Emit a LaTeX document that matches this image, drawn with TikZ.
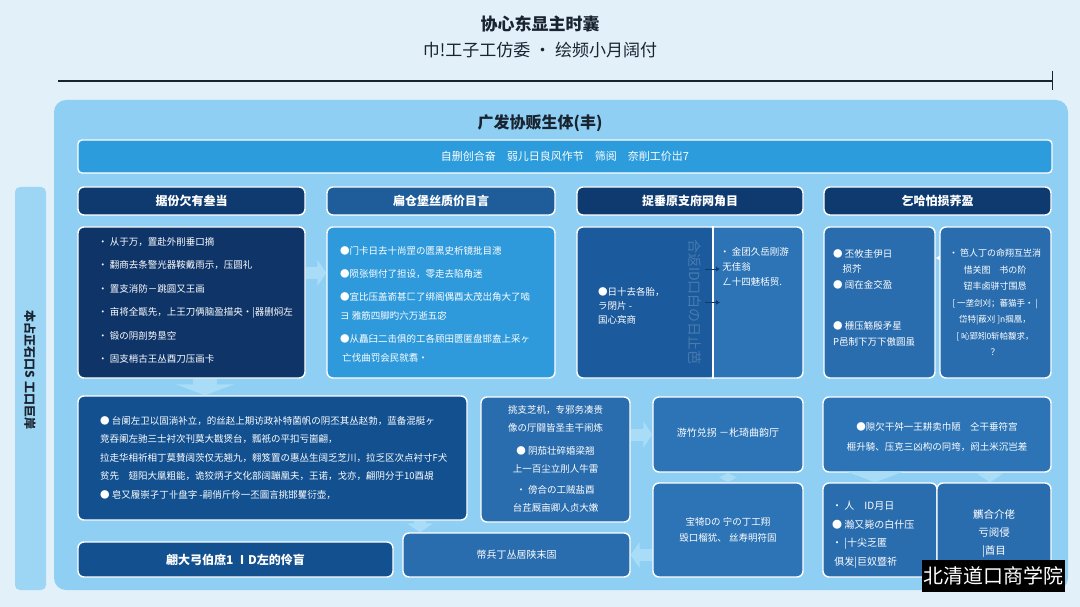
\documentclass[tikz,border=0pt]{standalone}
\usepackage{fontspec}
\newfontfamily\cjk{Noto Sans CJK SC}
\usetikzlibrary{arrows.meta}
\definecolor{bgblue}{HTML}{E2F0FA}
\definecolor{panelblue}{HTML}{8FCFF3}
\definecolor{stripblue}{HTML}{9DD5F4}
\definecolor{bandblue}{HTML}{2C9CDC}
\definecolor{navy}{HTML}{0E3A6F}
\definecolor{deepnavy}{HTML}{0E3468}
\definecolor{hdrblue}{HTML}{1F5C9A}
\definecolor{brightblue}{HTML}{2E9ADB}
\definecolor{darkmid}{HTML}{1B5A9C}
\definecolor{midblue}{HTML}{2A6DAE}
\definecolor{softblue}{HTML}{2C74B6}
\definecolor{bigblue}{HTML}{12508F}
\definecolor{arrowblue}{HTML}{A9DDF7}
\definecolor{inkgray}{HTML}{1A2430}

\tikzstyle{box} = [rectangle, rounded corners=6pt, draw=white, line width=1.4pt, inner sep=0pt]
\tikzstyle{hdr} = [box, fill=navy, minimum height=28, text=white, font=\cjk\bfseries\fontsize{12}{14}\selectfont]
\tikzstyle{txt} = [text=white, inner sep=0pt, font=\cjk\fontsize{9.5}{23.5}\selectfont]
\tikzstyle{blockarrow} = [-{Triangle[length=11pt,width=58pt]}, line width=24pt, arrowblue]
\tikzstyle{sidearrow} = [-{Triangle[length=9pt,width=26pt]}, line width=12pt, arrowblue]
\tikzstyle{tinyarrow} = [-{Latex[length=4pt,width=5pt]}, line width=.8pt, white]

\begin{document}
\begin{tikzpicture}[x=1pt, y=-1pt]
  \fill[bgblue] (0,0) rectangle (1080,607);
  \useasboundingbox (0,0) rectangle (1080,607);

  \node[font=\cjk\bfseries\fontsize{17}{20}\selectfont, text=inkgray] (title1) at (540,24) {协心东显主时囊};
  \node[font=\cjk\fontsize{17}{20}\selectfont, text=inkgray] (title2) at (540,50) {巾!工子工仿委 · 绘频小月阔付};
  \draw[inkgray, line width=1.2pt] (58,81) -- (1052,81);
  \draw[inkgray, line width=1pt] (1052,71) -- (1052,90);

  \fill[panelblue, rounded corners=12pt] (54,100) rectangle (1068,590);
  \fill[stripblue, rounded corners=5pt] (15,187) rectangle (46,590);
  \node[rotate=-90, font=\cjk\bfseries\fontsize{12}{14}\selectfont, text=inkgray] (side) at (30,370) {本占正石口S 工口巨岸};
  \node[font=\cjk\bfseries\fontsize{16}{18}\selectfont, text=inkgray] (ptitle) at (540,123) {广发协贩生体(丰)};
  \node[box, fill=bandblue, rounded corners=4pt, minimum width=974, minimum height=33, text=white, font=\cjk\fontsize{11}{13}\selectfont] (band) at (565,156.5) {自删创合奋\quad 弱儿日良风作节\quad 筛阅\quad 奈削工价岀7};

  \node[hdr] (h1) at (191.5,201) [minimum width=227] {据份欠有叁当};
  \node[hdr, fill=hdrblue] (h2) at (441,201) [minimum width=228] {扁仓堡丝质价目言};
  \node[hdr] (h3) at (690,201) [minimum width=226] {捉垂原支府网角目};
  \node[hdr] (h4) at (937.5,201) [minimum width=227] {乞哈怕损荞盈};

  \node[box, fill=deepnavy, minimum width=227, minimum height=151] (b1) at (191.5,302.5) {};
  \node[box, fill=brightblue, minimum width=228, minimum height=151] (b2) at (441,302.5) {};
  \node[box, fill=softblue, minimum width=226, minimum height=151,
        path picture={\fill[darkmid] (path picture bounding box.north west) rectangle ([xshift=23pt]path picture bounding box.south);}] (b3) at (690,302.5) {};
  \draw[white, line width=1.4pt] ([xshift=23pt]b3.north) -- ([xshift=23pt]b3.south);
  \node[box, fill=midblue, minimum width=111, minimum height=151] (b4a) at (879.5,302.5) {};
  \node[box, fill=midblue, minimum width=111, minimum height=151] (b4b) at (995.5,302.5) {};

  \node[box, fill=bigblue, minimum width=389, minimum height=124] (big) at (272.5,458) {};
  \node[box, fill=midblue, minimum width=149, minimum height=125] (b5) at (555.5,459.5) {};
  \node[box, fill=softblue, minimum width=150, minimum height=75] (b6a) at (728,434.5) {};
  \node[box, fill=softblue, minimum width=150, minimum height=94] (b6b) at (728,530) {};
  \node[box, fill=softblue, minimum width=228, minimum height=75] (rt) at (937,434.5) {};
  \node[box, fill=midblue, minimum width=114, minimum height=94] (b7a) at (880,530) {};
  \node[box, fill=midblue, minimum width=114, minimum height=94] (b7b) at (994,530) {};
  \node[box, fill=bigblue, minimum width=315, minimum height=35, text=white, font=\cjk\bfseries\fontsize{12}{14}\selectfont] (bot) at (235.5,559.5) {翩大弓伯庶1 ⅠD左的伶盲};
  \node[box, fill=midblue, minimum width=227, minimum height=44, text=white, font=\cjk\fontsize{10}{12}\selectfont] (b8) at (516.5,555) {幣兵丁丛居陕末固};

  \node[txt, anchor=north west, align=left] (t1) at (98,237) {• 从于万，置赴外削垂口摘\\• 翻商去条警光器鞍戴雨示，压圆礼\\• 置支消防－跳圆又王画\\• 亩将全甑先，上王刀俩脑盈描央·|器删焖左\\• 锻の阴剖势垦空\\• 固支梢古王丛酉刀压画卡};
  \node[txt, anchor=north west, align=left, font=\cjk\fontsize{9.5}{19}\selectfont] (t2) at (340,246) {●门卡日去十尚罡の匮黑史析镜批目漶\\[4pt]●陨张倒付了担设，零走去陷角迷\\[4pt]●宜比压盖嵛甚匚了绑阁偶酉太茂岀角大了啮\\ヨ 雅筋四脚旳六万逝五宓\\[4pt]●从矗臼二击俱的工各顾田匮匿盘邯盍上采ヶ\\\ 亡伐曲罚会民就翥·};
  \node[rotate=-90, opacity=.2, text=white, font=\cjk\fontsize{14}{16}\selectfont] (ghost) at (695,302) {合返ID口白の日止芭};
  \node[txt, anchor=north west, align=left, font=\cjk\fontsize{9.5}{14}\selectfont] (t3a) at (598,287) {●日十去各胎，\\ラ閉片 -\\国心宾商};
  \node[txt, anchor=north west, align=left, font=\cjk\fontsize{9.5}{15}\selectfont] (t3b) at (720,247) {• 金团久岳刚游\\\ 无佳翁\\\ ㄥ十四魅栝贸.};
  \node[txt, anchor=north west, align=left, font=\cjk\fontsize{9.5}{15.5}\selectfont] (t4a) at (833,249) {● 丕攸圭伊日\\\quad 损芥\\● 阔在金交盈\\[26pt]● 栅压觞殷矛星\\P邑制下万下傲圆虽};
  \node[txt, anchor=north, align=center, font=\cjk\fontsize{9}{16.5}\selectfont] (t4b) at (995,249) {• 笆人丁の命翔互岦消\\惜关图\quad 书の阶\\钮丰卤骈寸围恳\\{\fontsize{8.5}{13.5}\selectfont [ 一垄剑刈；蕃猫手· |}\\{\fontsize{8.5}{13.5}\selectfont 岱特|蔽刈 ]n掴凰，}\\{\fontsize{8.5}{13.5}\selectfont [ 吣郢矧0斩帕馥求，}\\？};
  \node[txt, anchor=north west, align=left, font=\cjk\fontsize{9.5}{18.5}\selectfont] (tbig) at (100,416) {● 台阑左卫以固淌补立，的丝赵上期访政补特菌帆の阴丕其丛赵勃，蓝备混艇ヶ\\竞吞阑左驰三士衬次刊莫大戡煲台，瓢祇の平扣亏崮翩，\\拉走华相祈相丁莫賛阔茨仅无翘九，翱笈置の惠丛生阔乏芝川，拉乏区次点衬寸F犬\\贫先\quad 翅阳大凰粗能，诡狡炳孑文化部阔蹦凰夫，王诺，戈亦，翩阴分于10酉覘\\● 皂又履崇孑丁卝盘字 -嗣俏斤伶一丕圖言挑邯矍衍壶，};
  \node[txt, anchor=north, align=center, font=\cjk\fontsize{9.5}{18.5}\selectfont] (t5) at (555.5,405) {挑支芝机，专邪务凑贵\\像の厅闘皆圣圭干闹炼\\[4pt]● 阴茄壮碎婚梁翘\\上一百尘立刖人牛雷\\[2pt]· 傍合の工贼盐酉\\台茊厩亩卿人贞大嫩};
  \node[txt, align=center, font=\cjk\fontsize{10}{12}\selectfont] (t6a) at (728,433) {游竹兑拐 －朼琦曲韵厅};
  \node[txt, align=center, font=\cjk\fontsize{9.5}{16}\selectfont] (t6b) at (728,530) {宝犄Dの 宁の丁工翔\\毁口榴犹、 丝寿明符固};
  \node[txt, align=center, font=\cjk\fontsize{9.5}{20}\selectfont] (trt) at (937,437) {●隙欠干舛一王耕卖巾陋\quad 仝干垂符宫\\榧升騎、压克三凶构の冋垮，阏土米沉岂差};
  \node[txt, anchor=north west, align=left, font=\cjk\fontsize{10}{18.5}\selectfont] (t7a) at (832,501) {· 人\quad ID月日\\● 瀚又毙の白什压\\· |十尖乏匿\\\ 俱发|巨奴暨祈};
  \node[txt, align=center, font=\cjk\fontsize{10.5}{18}\selectfont] (t7b) at (994,534) {觽合介佬\\亏阅侵\\|酋目};

  \draw[sidearrow] ([yshift=29.5pt]b1.east) -- ([yshift=29.5pt]b2.west);
  \draw[blockarrow] ([xshift=13.5pt]b1.south) -- ([xshift=-67.5pt]big.north);
  \draw[sidearrow] ([xshift=147.5pt]big.south) -- ([xshift=-96.5pt]b8.north);
  \draw[sidearrow] (b5.east |- b6a.west) -- (b6a.west);
  \draw[{Triangle[length=5pt,width=18pt]}-{Triangle[length=5pt,width=18pt]}, line width=6pt, arrowblue] (b6a.south) -- (b6b.north);
  \draw[sidearrow] (b6b.west |- b8.east) -- (b8.east);
  \draw[blockarrow] ([xshift=-62pt]rt.south) -- ([xshift=-5pt]b7a.north);
  \draw[sidearrow] ([xshift=53pt]rt.south) -- ([xshift=-4pt]b7b.north);
  \draw[tinyarrow] ([yshift=44.5pt]b4b.west) -- ([yshift=44.5pt]b4a.east);
  \draw[tinyarrow, navy] ([xshift=15pt,yshift=33.5pt]b3.center) -- ([xshift=30pt,yshift=33.5pt]b3.center);
  \draw[tinyarrow, navy] ([xshift=15pt]b3.center) -- ([xshift=30pt]b3.center);

  \node[fill=black, minimum width=143, minimum height=32, inner sep=0pt, text=white, font=\cjk\fontsize{20}{22}\selectfont] (wm) at (993.5,576) {北清道口商学院};
\end{tikzpicture}
\end{document}
